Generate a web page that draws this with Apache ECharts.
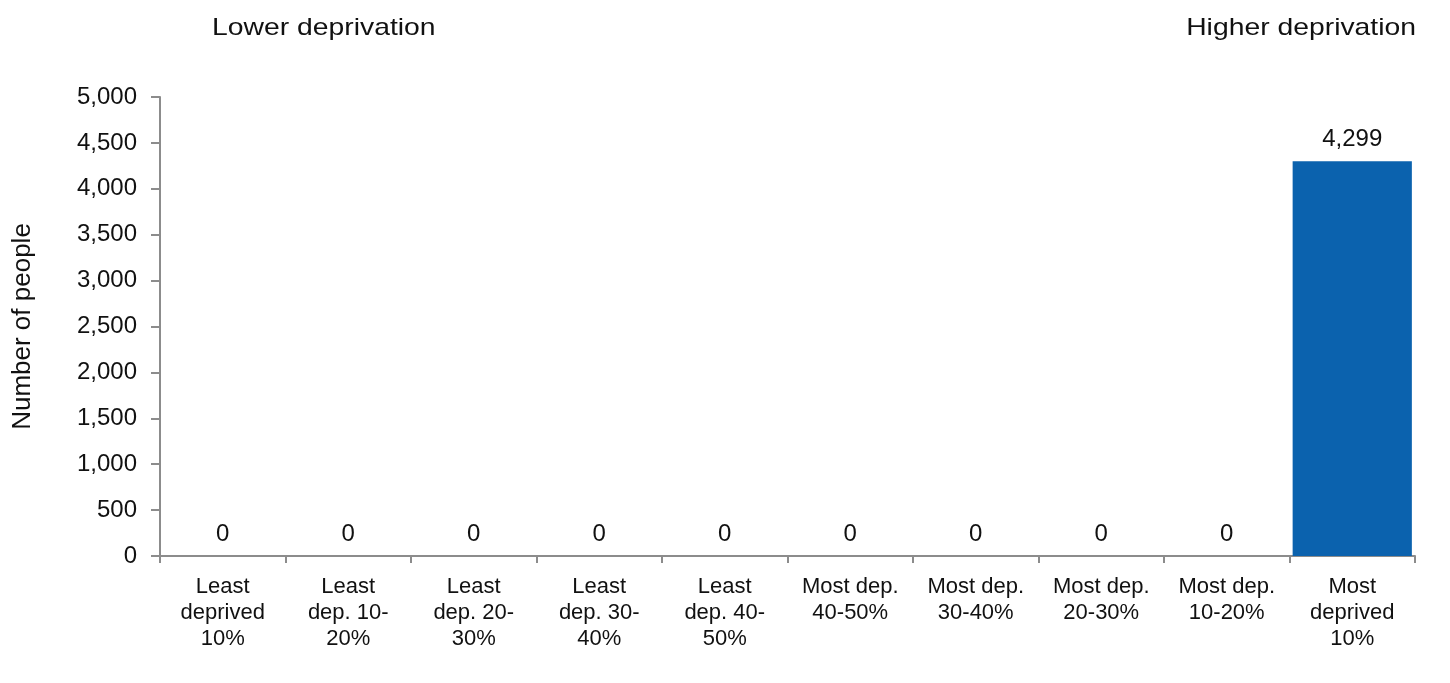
<!DOCTYPE html>
<html><head><meta charset="utf-8">
<script src="https://cdn.jsdelivr.net/npm/echarts@6/dist/echarts.min.js"></script>
<style>html,body{margin:0;padding:0;background:#fff}#c{width:1450px;height:683px}</style>
</head><body><div id="c"></div>
<script>
const categories = ["Least\ndeprived\n10%","Least\ndep. 10-\n20%","Least\ndep. 20-\n30%","Least\ndep. 30-\n40%","Least\ndep. 40-\n50%","Most dep.\n40-50%","Most dep.\n30-40%","Most dep.\n20-30%","Most dep.\n10-20%","Most\ndeprived\n10%"];
const values = [0,0,0,0,0,0,0,0,0,4299];
const yTicks = {min:0,max:5000,interval:500};
const yAxisTitle = "Number of people";
const leftNote = "Lower deprivation";
const rightNote = "Higher deprivation";

const chart = echarts.init(document.getElementById('c'));
const font = "'Liberation Sans', Arial, sans-serif";
chart.setOption({
  animation:false,
  grid:{left:160,right:35,top:97,bottom:127,containLabel:false,outerBoundsMode:'none'},
  xAxis:{type:'category',data:categories,
    axisLine:{lineStyle:{color:'#8c8c8c',width:2}},
    axisTick:{show:true,alignWithLabel:false,length:7,lineStyle:{color:'#8c8c8c',width:2}},
    axisLabel:{color:'#111',fontFamily:font,fontSize:22,lineHeight:26,margin:18,interval:0}},
  yAxis:{type:'value',min:yTicks.min,max:yTicks.max,interval:yTicks.interval,
    name:yAxisTitle,nameLocation:'middle',nameGap:124,nameRotate:90,
    nameTextStyle:{color:'#111',fontFamily:font,fontSize:26},
    axisLine:{show:true,lineStyle:{color:'#8c8c8c',width:2}},
    axisTick:{show:true,length:9,lineStyle:{color:'#8c8c8c',width:2}},
    splitLine:{show:false},
    axisLabel:{color:'#111',fontFamily:font,fontSize:24,margin:23,
      formatter:v=>v.toLocaleString('en-US')}},
  series:[{type:'bar',data:values,barCategoryGap:'5%',
    itemStyle:{color:'#0B62AE'},
    label:{show:true,position:'top',distance:10,color:'#111',fontFamily:font,fontSize:24,
      formatter:p=>p.value.toLocaleString('en-US')}}],
  graphic:[
    {type:'text',x:212,y:28,scaleX:1.18,style:{text:leftNote,fontFamily:font,fontSize:24,fill:'#111',textAlign:'left',textVerticalAlign:'middle'}},
    {type:'text',x:1416,y:28,scaleX:1.18,style:{text:rightNote,fontFamily:font,fontSize:24,fill:'#111',textAlign:'right',textVerticalAlign:'middle'}}
  ]
});
</script></body></html>
